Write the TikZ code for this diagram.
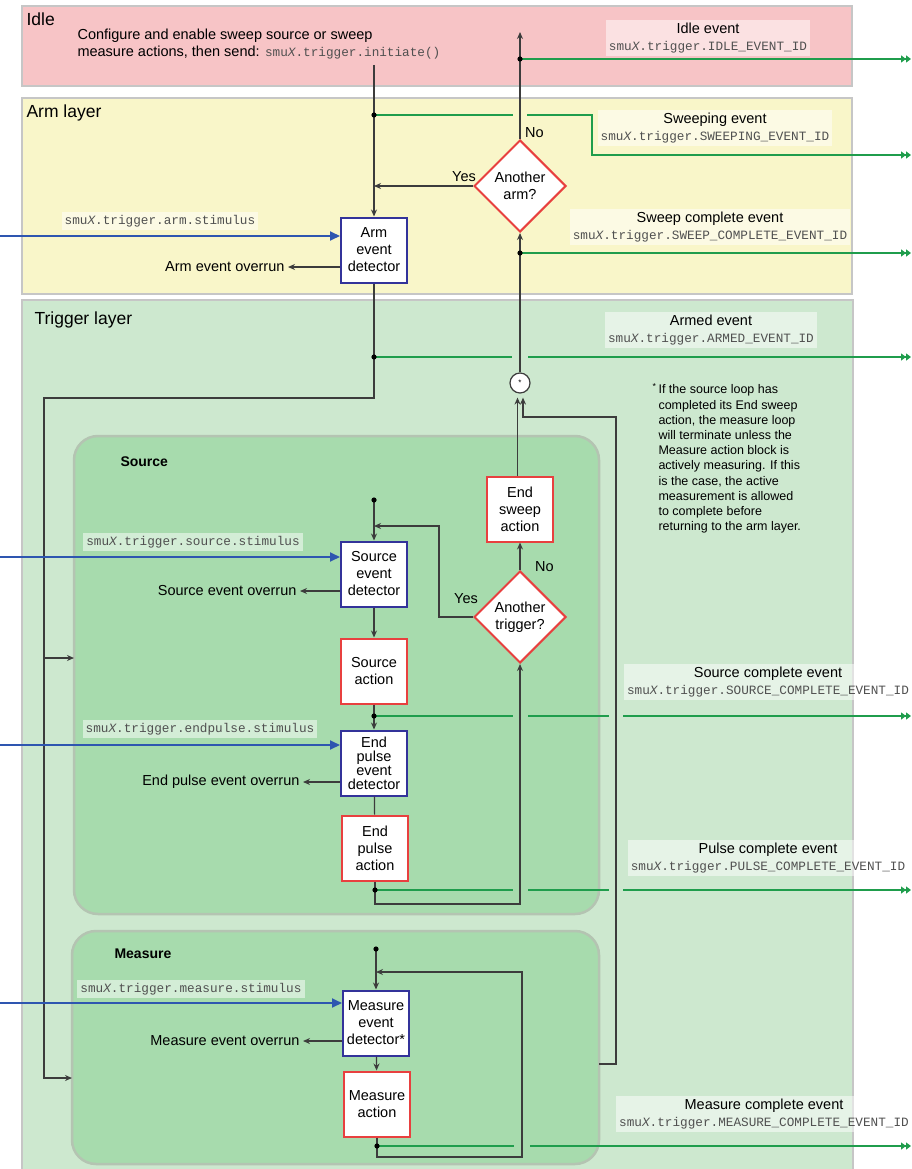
\documentclass[tikz,border=0pt]{standalone}
\usepackage{fontspec}
\setmainfont{Liberation Sans}
\setmonofont{Liberation Mono}
\usepackage{xcolor}
\usepackage{tikz}
\usetikzlibrary{shapes.geometric, arrows.meta, positioning}

\definecolor{idlebg}{HTML}{F7C4C6}
\definecolor{armbg}{HTML}{F9F6C9}
\definecolor{trigbg}{HTML}{CDE8CF}
\definecolor{loopbg}{HTML}{A7DBAD}
\definecolor{layerline}{HTML}{C6C6C6}
\definecolor{loopline}{HTML}{B4C4B2}
\definecolor{evgreen}{HTML}{1F9D4C}
\definecolor{stimblue}{HTML}{2E56B0}
\definecolor{detblue}{HTML}{33339A}
\definecolor{actred}{HTML}{E8403F}
\definecolor{linegray}{HTML}{3C3C3C}
\definecolor{codegray}{HTML}{505050}

\newcommand{\smu}{smu\textit{X}}
\newcommand{\codetxt}[1]{{\color{codegray}\ttfamily\fontsize{12.7}{17}\selectfont #1}}

\begin{document}
\begin{tikzpicture}[
    x=1pt, y=-1pt,
    every node/.style={font=\fontsize{14.5}{17}\selectfont},
    layer/.style={draw=layerline, line width=2pt, fill=#1},
    loopbox/.style={draw=loopline, line width=2.5pt, fill=loopbg, rounded corners=24pt},
    detbox/.style={draw=detblue, line width=2pt, fill=white, minimum width=66pt, minimum height=65pt, align=center, inner sep=1pt},
    actbox/.style={draw=actred, line width=2pt, fill=white, minimum width=66pt, minimum height=65pt, align=center, inner sep=1pt},
    decide/.style={diamond, draw=actred, line width=2pt, fill=white, aspect=1, minimum width=92pt, minimum height=92pt, inner sep=0pt, align=center},
    tag/.style={fill=white, fill opacity=0.5, text opacity=1, inner sep=3pt, align=center},
    arr/.style={-{Stealth[length=7pt,width=6pt]}, draw=linegray, line width=1.2pt},
    ln/.style={draw=linegray, line width=1.2pt},
    evout/.style={draw=evgreen, line width=2pt, -{Triangle[length=5pt,width=7pt]Triangle[length=5pt,width=7pt]}},
    stim/.style={draw=stimblue, line width=1.8pt, -{Triangle[length=10pt,width=9pt]}}
]
    \useasboundingbox (0,0) rectangle (911,1169);

    % Layers
    \draw[layer=idlebg] (22,6) rectangle (852,86);
    \draw[layer=armbg] (22,98) rectangle (852,294);
    \draw[layer=trigbg] (22,300) rectangle (853,1185);
    \draw[loopbox] (74,436) rectangle (599,914);
    \draw[loopbox] (72,931) rectangle (599,1164);

    \node[anchor=west, font=\fontsize{17.5}{20}\selectfont] (idletitle) at (23,19) {Idle};
    \node[anchor=west, font=\fontsize{17.5}{20}\selectfont] (armtitle) at (23,113) {Arm layer};
    \node[anchor=west, font=\fontsize{17.5}{20}\selectfont] (trigtitle) at (31,320) {Trigger layer};
    \node[anchor=west, font=\fontsize{14}{17}\selectfont\bfseries] (srctitle) at (117,462) {Source};
    \node[anchor=west, font=\fontsize{14}{17}\selectfont\bfseries] (meastitle) at (111,954) {Measure};

    \node[anchor=north west, align=left] (idlenote) at (74,25) {Configure and enable sweep source or sweep\\measure actions, then send: \codetxt{\smu.trigger.initiate()}};

    % Arm layer blocks
    \node[detbox] (armdet) at (374,250) {Arm\\event\\detector};
    \node[decide] (armdec) at (520,186) {Another\\arm?};
    \node[circle, draw=linegray, fill=white, line width=1.2pt, minimum size=20pt, inner sep=0pt, font=\fontsize{8}{8}\selectfont] (join) at (520,383) {*};

    % Source loop
    \node[actbox] (sweepact) at (520,509) {End\\sweep\\action};
    \node[decide] (trigdec) at (520,617) {Another\\trigger?};
    \node[detbox] (srcdet) at (374,574) {Source\\event\\detector};
    \node[actbox] (srcact) at (374,671) {Source\\action};
    \node[detbox, font=\fontsize{14.5}{14}\selectfont] (epdet) at (374,763) {End\\pulse\\event\\detector};
    \node[actbox] (epact) at (375,848) {End\\pulse\\action};

    % Measure loop
    \node[detbox] (measdet) at (376,1023) {Measure\\event\\detector*};
    \node[actbox] (measact) at (377,1104) {Measure\\action};

    % Overruns
    \node[anchor=east] (armover) at (288,267) {Arm event overrun};
    \node[anchor=east] (srcover) at (300,591) {Source event overrun};
    \node[anchor=east] (epover) at (303,782) {End pulse event overrun};
    \node[anchor=east] (measover) at (303,1041) {Measure event overrun};

    % Stimulus tags
    \node[tag] (armtag) at (160,221) {\codetxt{\smu.trigger.arm.stimulus}};
    \node[tag] (srctag) at (193,542) {\codetxt{\smu.trigger.source.stimulus}};
    \node[tag] (eptag) at (200,729) {\codetxt{\smu.trigger.endpulse.stimulus}};
    \node[tag] (meastag) at (191,989) {\codetxt{\smu.trigger.measure.stimulus}};

    % Event tags
    \node[tag] (idletag) at (708,38) {Idle event\\\codetxt{\smu.trigger.IDLE\_EVENT\_ID}};
    \node[tag] (sweeptag) at (715,128) {Sweeping event\\\codetxt{\smu.trigger.SWEEPING\_EVENT\_ID}};
    \node[tag] (swctag) at (710,227) {Sweep complete event\\\codetxt{\smu.trigger.SWEEP\_COMPLETE\_EVENT\_ID}};
    \node[tag] (armedtag) at (711,330) {Armed event\\\codetxt{\smu.trigger.ARMED\_EVENT\_ID}};
    \node[tag] (srcdonetag) at (768,682) {Source complete event\\\codetxt{\smu.trigger.SOURCE\_COMPLETE\_EVENT\_ID}};
    \node[tag] (pulsetag) at (768,858) {Pulse complete event\\\codetxt{\smu.trigger.PULSE\_COMPLETE\_EVENT\_ID}};
    \node[tag] (meastag2) at (764,1114) {Measure complete event\\\codetxt{\smu.trigger.MEASURE\_COMPLETE\_EVENT\_ID}};

    % Footnote
    \node[anchor=north west, align=left, font=\fontsize{12.5}{15.2}\selectfont] (footnote) at (655,380) {\llap{\textsuperscript{*}\,}If the source loop has\\completed its End sweep\\action, the measure loop\\will terminate unless the\\Measure action block is\\actively measuring. If this\\is the case, the active\\measurement is allowed\\to complete before\\returning to the arm layer.};

    % Coordinates
    \coordinate (initstart) at (374,65);
    \coordinate (idletop) at (520,32);
    \coordinate (idledot) at (520,59);
    \coordinate (sweepdot) at (374,115);
    \coordinate (swcdot) at (520,253);
    \coordinate (armeddot) at (374,357);
    \coordinate (leftbus) at (44,398);
    \coordinate (srcin) at (74,658);
    \coordinate (measin) at (72,1078);
    \coordinate (srcstart) at (374,500);
    \coordinate (srcret) at (439,526);
    \coordinate (srcdone) at (374,716);
    \coordinate (pulsedot) at (375,890);
    \coordinate (srcloop) at (520,904);
    \coordinate (measstart) at (376,949);
    \coordinate (measret) at (376,972);
    \coordinate (measloop) at (522,1157);
    \coordinate (measdot) at (377,1146);
    \coordinate (measout) at (599,1064);
    \coordinate (retbus) at (616,417);
    \coordinate (idleout) at (911,59);
    \coordinate (sweepout) at (911,155);
    \coordinate (swcout) at (911,253);
    \coordinate (armedout) at (911,357);
    \coordinate (srcout) at (911,716);
    \coordinate (pulseout) at (911,890);
    \coordinate (measureout) at (911,1146);

    % Flow
    \draw[arr] (initstart) -- (armdet.north);
    \draw[arr] (armdec.west) -- (armdec.west -| armdet.north);
    \draw[arr] (armdec.north) -- (idletop);
    \draw[arr] (join.north) -- (armdec.south);
    \draw[arr] (armdet.south) |- (leftbus) |- (measin);
    \draw[arr] (leftbus |- srcin) -- (srcin);
    \draw[arr] (srcstart) -- (srcdet.north);
    \draw[arr] (srcdet) -- (srcact);
    \draw[arr] (srcact) -- (epdet);
    \draw[ln] (epdet) -- (epact);
    \draw[arr] (epact.south) |- (srcloop) -- (trigdec.south);
    \draw[arr] (trigdec.west) -| (srcret) -- (srcret -| srcdet.north);
    \draw[arr] (trigdec.north) -- (sweepact.south);
    \draw[arr] ([xshift=-2.5pt]sweepact.north) -- ([xshift=-2.5pt,yshift=-4pt]join.south);
    \draw[arr] (measout) -| (retbus) -- ([xshift=3pt]join.south |- retbus) -- ([xshift=3pt,yshift=-4pt]join.south);
    \draw[arr] (measstart) -- (measdet.north);
    \draw[arr] (measdet) -- (measact);
    \draw[arr] (measact.south) |- (measloop) |- (measret);

    % Overrun arrows
    \draw[arr] (armdet.west |- armover) -- (armover);
    \draw[arr] (srcdet.west |- srcover) -- (srcover);
    \draw[arr] (epdet.west |- epover) -- (epover);
    \draw[arr] (measdet.west |- measover) -- (measover);

    % Stimulus inputs
    \coordinate (armstim) at (0,236);
    \coordinate (srcstim) at (0,557);
    \coordinate (epstim) at (0,745);
    \coordinate (measstim) at (0,1003);
    \draw[stim] (armstim) -- (armstim -| armdet.west);
    \draw[stim] (srcstim) -- (srcstim -| srcdet.west);
    \draw[stim] (epstim) -- (epstim -| epdet.west);
    \draw[stim] (measstim) -- (measstim -| measdet.west);

    % Event outputs
    \draw[evout] (idledot) -- (idleout);
    \draw[evout] (sweepdot) -- (513,115) (527,115) -| (592,155) -- (sweepout);
    \draw[evout] (swcdot) -- (swcout);
    \draw[evout] (armeddot) -- (512,357) (528,357) -- (armedout);
    \draw[evout] (srcdone) -- (513,716) (528,716) -- (609,716) (623,716) -- (srcout);
    \draw[evout] (pulsedot) -- (513,890) (528,890) -- (609,890) (623,890) -- (pulseout);
    \draw[evout] (measdot) -- (514,1146) (530,1146) -- (measureout);

    \foreach \p in {idledot, sweepdot, swcdot, armeddot, srcstart, srcdone, pulsedot, measstart, measdot}
        \fill[black] (\p) circle (2.6pt);

    % Yes / No
    \node[anchor=east, inner sep=1pt] (armyes) at ([xshift=4pt,yshift=9pt]armdec.west) {Yes};
    \node[anchor=south west, inner sep=1pt] (armno) at ([xshift=4pt]armdec.north) {No};
    \node[anchor=east, inner sep=1pt] (trigyes) at ([xshift=6pt,yshift=18pt]trigdec.west) {Yes};
    \node[anchor=west, inner sep=1pt] (trigno) at ([xshift=14pt,yshift=3pt]trigdec.north) {No};
\end{tikzpicture}
\end{document}
